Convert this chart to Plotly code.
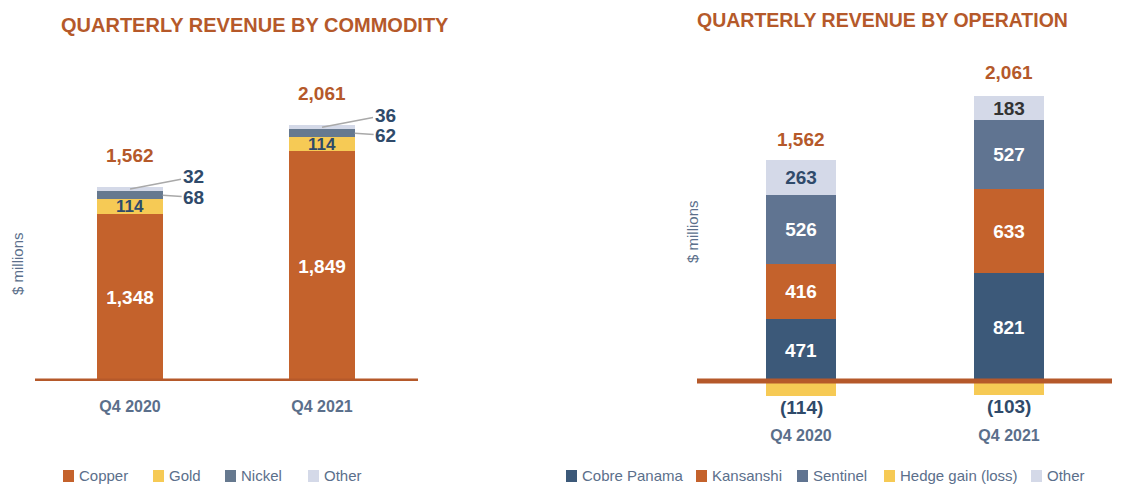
import plotly.graph_objects as go

# ---------------- data ----------------
periods = ["Q4 2020", "Q4 2021"]

# Left: by commodity
copper = [1348, 1849]
gold = [114, 114]
nickel = [68, 62]
other_commodity = [32, 36]
commodity_totals = [1562, 2061]

# Right: by operation
cobre_panama = [471, 821]
kansanshi = [416, 633]
sentinel = [526, 527]
hedge = [-114, -103]
other_operation = [263, 183]
operation_totals = [1562, 2061]

left_legend_names = ["Copper", "Gold", "Nickel", "Other"]
right_legend_names = ["Cobre Panama", "Kansanshi", "Sentinel", "Hedge gain (loss)", "Other"]

# ---------------- styles ----------------
FONT = "Liberation Sans, Arial, sans-serif"
ORANGE = "#B5592A"
C_COPPER = "#C4622C"
C_GOLD = "#F6CA55"
C_NICKEL = "#66798F"
C_OTHER = "#D4D9E8"
C_COBRE = "#3C5979"
C_SENT = "#607491"
NAVY = "#2F4A6A"
GREY_TXT = "#5B6F8B"

# page is 1141x484, the plot div sits 8px in from the top-left (body margin)
OFF = 8
PW = 1141 - OFF
PH = 484 - OFF


def fx(px):
    return (px - OFF) / PW


def fy(py):
    return 1 - (py - OFF) / PH


xpos = [0, 1]
fig = go.Figure()


def bar(x, y, name, color, xa, ya, text=None, tcolor="white", tsize=19):
    fig.add_trace(go.Bar(
        x=x, y=y, name=name, marker=dict(color=color, line=dict(width=0)),
        width=0.34, xaxis=xa, yaxis=ya, showlegend=False,
        text=text, textposition="inside" if text else "none",
        insidetextanchor="middle", constraintext="none",
        textfont=dict(family=FONT, size=tsize, color=tcolor),
        texttemplate="<b>%{text}</b>" if text else None,
        hoverinfo="skip",
    ))


fmt = lambda v: f"{v:,}"

# left chart
bar(xpos, copper, "Copper", C_COPPER, "x", "y", [fmt(v) for v in copper], "white", 19)
bar(xpos, gold, "Gold", C_GOLD, "x", "y", [fmt(v) for v in gold], NAVY, 17)
bar(xpos, nickel, "Nickel", C_NICKEL, "x", "y")
bar(xpos, other_commodity, "Other", C_OTHER, "x", "y")

# right chart
bar(xpos, cobre_panama, "Cobre Panama", C_COBRE, "x2", "y2", [fmt(v) for v in cobre_panama])
bar(xpos, kansanshi, "Kansanshi", C_COPPER, "x2", "y2", [fmt(v) for v in kansanshi])
bar(xpos, sentinel, "Sentinel", C_SENT, "x2", "y2", [fmt(v) for v in sentinel])
bar(xpos, hedge, "Hedge gain (loss)", C_GOLD, "x2", "y2")
bar(xpos, other_operation, "Other", C_OTHER, "x2", "y2",
    [fmt(v) for v in other_operation], [NAVY, "#333333"])

ann = []
# totals left
for i, t in enumerate(commodity_totals):
    ann.append(dict(x=xpos[i], y=t, xref="x", yref="y", text=f"<b>{fmt(t)}</b>",
                    showarrow=False, yanchor="bottom", yshift=19,
                    font=dict(family=FONT, size=19, color=ORANGE)))
# leader labels left
for i in range(2):
    top = copper[i] + gold[i] + nickel[i] + other_commodity[i]
    ann.append(dict(x=xpos[i], y=top - other_commodity[i] / 2, xref="x", yref="y",
                    text=f"<b>{other_commodity[i]}</b>", showarrow=True, arrowhead=0,
                    arrowwidth=1.5, arrowcolor="#A9A9A9", ax=63, ay=-12,
                    font=dict(family=FONT, size=19, color=NAVY)))
    ann.append(dict(x=xpos[i] + 0.17, y=copper[i] + gold[i] + nickel[i] / 2, xref="x", yref="y",
                    text=f"<b>{nickel[i]}</b>", showarrow=True, arrowhead=0,
                    arrowwidth=1.5, arrowcolor="#A9A9A9", ax=31, ay=2,
                    font=dict(family=FONT, size=19, color=NAVY)))
# totals right
for i, t in enumerate(operation_totals):
    pos_sum = cobre_panama[i] + kansanshi[i] + sentinel[i] + other_operation[i]
    ann.append(dict(x=xpos[i], y=pos_sum, xref="x2", yref="y2", text=f"<b>{fmt(t)}</b>",
                    showarrow=False, yanchor="bottom", yshift=8 + 3 * i,
                    font=dict(family=FONT, size=19, color=ORANGE)))
    ann.append(dict(x=xpos[i], y=hedge[i], xref="x2", yref="y2",
                    text=f"<b>({abs(hedge[i])})</b>",
                    showarrow=False, yanchor="top", yshift=1,
                    font=dict(family=FONT, size=19, color=NAVY)))

# titles
ann.append(dict(x=fx(255), y=fy(25), xref="paper", yref="paper", showarrow=False,
                xanchor="center", yanchor="middle",
                text="<b>QUARTERLY REVENUE BY COMMODITY</b>",
                font=dict(family=FONT, size=20, color=ORANGE)))
ann.append(dict(x=fx(882), y=fy(20), xref="paper", yref="paper", showarrow=False,
                xanchor="center", yanchor="middle", borderpad=0,
                text="<b>QUARTERLY REVENUE BY OPERATION</b>",
                font=dict(family=FONT, size=19.5, color=ORANGE)))
# $ millions
ann.append(dict(x=fx(17), y=fy(264), xref="paper", yref="paper", showarrow=False,
                xanchor="center", yanchor="middle",
                text="$ millions", textangle=-90,
                font=dict(family=FONT, size=15, color=GREY_TXT)))
ann.append(dict(x=fx(692), y=fy(232), xref="paper", yref="paper", showarrow=False,
                xanchor="center", yanchor="middle",
                text="$ millions", textangle=-90,
                font=dict(family=FONT, size=15, color=GREY_TXT)))

shapes = [
    dict(type="line", xref="x domain", yref="y", x0=0, x1=1, y0=0, y1=0,
         line=dict(color=ORANGE, width=5), layer="above"),
    dict(type="line", xref="x2 domain", yref="y2", x0=0, x1=1, y0=0, y1=0,
         line=dict(color=ORANGE, width=5), layer="above"),
]

# custom legends (swatch + label), positions in page pixels
left_legend_colors = [C_COPPER, C_GOLD, C_NICKEL, C_OTHER]
left_legend_x = [63, 153, 225, 308]
right_legend_colors = [C_COBRE, C_COPPER, C_SENT, C_GOLD, C_OTHER]
right_legend_x = [566, 696, 797, 884, 1031]
for names, cols, xs in ((left_legend_names, left_legend_colors, left_legend_x),
                        (right_legend_names, right_legend_colors, right_legend_x)):
    for nm, c, px in zip(names, cols, xs):
        shapes.append(dict(type="rect", xref="paper", yref="paper",
                           x0=fx(px), x1=fx(px + 11), y0=fy(482), y1=fy(470),
                           fillcolor=c, line=dict(width=0)))
        ann.append(dict(x=fx(px + 14), y=fy(475), xref="paper", yref="paper",
                        showarrow=False, xanchor="left", yanchor="middle", text=nm,
                        font=dict(family=FONT, size=15, color=GREY_TXT)))

tickfont = dict(family=FONT, size=16, color=GREY_TXT)
ticktext = [f"<b>{p}</b>" for p in periods]

fig.update_layout(
    width=PW, height=PH, margin=dict(l=0, r=0, t=0, b=0, autoexpand=False),
    paper_bgcolor="white", plot_bgcolor="rgba(0,0,0,0)",
    barmode="relative", bargap=0, showlegend=False,
    font=dict(family=FONT),
    xaxis=dict(domain=[fx(35), fx(418)], range=[-0.495, 1.5], tickvals=xpos, ticktext=ticktext,
               showgrid=False, zeroline=False, showline=False, ticks="", tickfont=tickfont,
               ticklabelstandoff=14, anchor="y"),
    yaxis=dict(domain=[fy(381), 1], range=[0, (381 - OFF) * 8.05], visible=False, anchor="x"),
    xaxis2=dict(domain=[fx(697), fx(1112)], range=[-0.5, 1.495], tickvals=xpos, ticktext=ticktext,
                showgrid=False, zeroline=False, showline=False, ticks="", tickfont=tickfont,
                ticklabelstandoff=24, anchor="y2"),
    yaxis2=dict(domain=[fy(400), 1], range=[-19 * 7.58, (381 - OFF) * 7.58], visible=False,
                anchor="x2"),
    annotations=ann, shapes=shapes,
)

fig.write_html("out.html")
